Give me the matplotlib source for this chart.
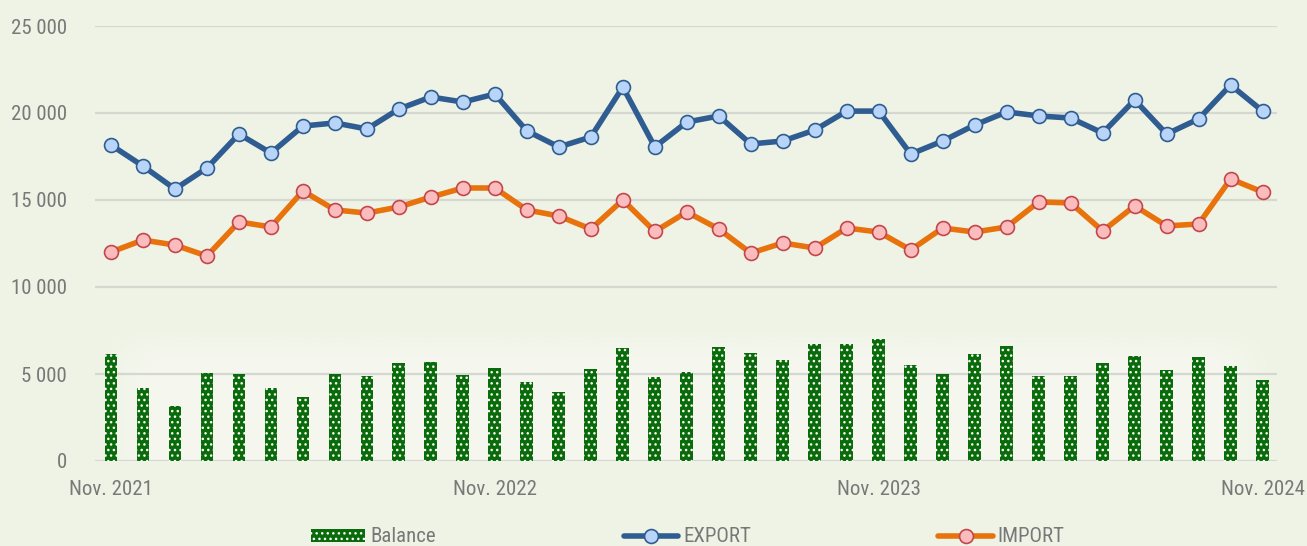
import matplotlib
matplotlib.use("Agg")
import matplotlib.pyplot as plt
import numpy as np
from matplotlib import font_manager
from matplotlib.ticker import FuncFormatter, FixedLocator

months = ["Nov. 2021", "Dec. 2021", "Jan. 2022", "Feb. 2022", "Mar. 2022", "Apr. 2022",
          "May 2022", "Jun. 2022", "Jul. 2022", "Aug. 2022", "Sep. 2022", "Oct. 2022",
          "Nov. 2022", "Dec. 2022", "Jan. 2023", "Feb. 2023", "Mar. 2023", "Apr. 2023",
          "May 2023", "Jun. 2023", "Jul. 2023", "Aug. 2023", "Sep. 2023", "Oct. 2023",
          "Nov. 2023", "Dec. 2023", "Jan. 2024", "Feb. 2024", "Mar. 2024", "Apr. 2024",
          "May 2024", "Jun. 2024", "Jul. 2024", "Aug. 2024", "Sep. 2024", "Oct. 2024",
          "Nov. 2024"]

export = [18160, 16950, 15630, 16840, 18790, 17700, 19250, 19430, 19080, 20230,
          20920, 20630, 21090, 18970, 18050, 18620, 21490, 18050, 19480, 19830,
          18220, 18390, 19020, 20110, 20110, 17640, 18390, 19310, 20060, 19830,
          19710, 18850, 20750, 18790, 19660, 21610, 20110]

imports = [12010, 12700, 12410, 11780, 13740, 13450, 15520, 14430, 14250, 14600,
           15170, 15690, 15690, 14430, 14080, 13330, 15000, 13190, 14310, 13330,
           11950, 12530, 12240, 13390, 13160, 12130, 13390, 13160, 13450, 14890,
           14830, 13220, 14660, 13510, 13620, 16210, 15460]

balance = [6130, 4180, 3160, 5080, 4980, 4180, 3660, 4980, 4890, 5610,
           5690, 4940, 5360, 4520, 3950, 5300, 6510, 4810, 5110, 6530,
           6220, 5820, 6720, 6720, 6990, 5530, 5000, 6170, 6610, 4900,
           4900, 5610, 6030, 5210, 5980, 5460, 4660]

yticks = [0, 5000, 10000, 15000, 20000, 25000]
xtick_labels = ["Nov. 2021", "Nov. 2022", "Nov. 2023", "Nov. 2024"]

# font choice
avail = {f.name for f in font_manager.fontManager.ttflist}
family = "DejaVu Sans"
for cand in ["Roboto Condensed", "Liberation Sans Narrow", "DejaVu Sans Condensed", "Roboto", "Open Sans"]:
    if cand in avail:
        family = cand
        break
plt.rcParams['font.family'] = [family, 'DejaVu Sans']
plt.rcParams['hatch.color'] = 'white'
plt.rcParams['hatch.linewidth'] = 1.0

BG = "#eff3e5"
GRID = "#d5d8d0"
TXT = "#787878"
GREEN = "#0a6b0a"
BLUE = "#2f5d91"
BLUE_FACE = "#b8d4f8"
ORANGE = "#e8720c"
PINK_FACE = "#fbbcbd"
PINK_EDGE = "#c4464b"

fig = plt.figure(figsize=(13.07, 5.46), dpi=100, facecolor=BG)
ax = fig.add_axes([95/1307, 85/546, (1277-95)/1307, (461-26)/546])
ax.set_facecolor(BG)

x = np.arange(len(months))

# soft lighter glow behind bars
gx = np.linspace(0, 1, 300)
gy = np.linspace(0, 1, 150)
GX, GY = np.meshgrid(gx, gy)
vert = np.clip((1 - GY) / 0.35, 0, 1)
vert = vert * vert * (3 - 2 * vert)
horiz = np.clip(np.minimum(GX, 1 - GX) / 0.05, 0, 1)
alpha = vert * horiz * 0.75
img = np.zeros((150, 300, 4))
img[..., :3] = np.array([248, 249, 243]) / 255
img[..., 3] = alpha
ax.imshow(img, extent=(-0.5, 36.45, 0, 8200), origin='lower', aspect='auto',
          zorder=0, interpolation='bilinear')

for t in yticks:
    ax.axhline(t, color=GRID, lw=1.6, zorder=1)

bars = ax.bar(x, balance, width=0.4, color=GREEN, hatch='...', linewidth=0, zorder=2,
              label="Balance")
l1, = ax.plot(x, export, color=BLUE, lw=4.0, marker='o', ms=10, mfc=BLUE_FACE,
              mec=BLUE, mew=1.2, zorder=4, label="EXPORT", solid_capstyle='round')
l2, = ax.plot(x, imports, color=ORANGE, lw=4.0, marker='o', ms=10, mfc=PINK_FACE,
              mec=PINK_EDGE, mew=1.2, zorder=3, label="IMPORT", solid_capstyle='round')

ax.set_xlim(-0.5, 36.45)
ax.set_ylim(0, 25000)
for s in ax.spines.values():
    s.set_visible(False)

ax.yaxis.set_major_locator(FixedLocator(yticks))
ax.yaxis.set_major_formatter(FuncFormatter(lambda v, p: f"{int(v):,}".replace(",", " ")))
xt_pos = [months.index(m) for m in xtick_labels]
ax.set_xticks(xt_pos)
ax.set_xticklabels(xtick_labels)
ax.tick_params(axis='y', length=0, pad=20, labelsize=15, labelcolor=TXT)
ax.tick_params(axis='x', length=0, pad=14, labelsize=15, labelcolor=TXT)

leg = fig.legend([bars, l1, l2], ["Balance", "EXPORT", "IMPORT"],
                 loc='center', bbox_to_anchor=(688/1307, 9/546), ncol=3,
                 frameon=False, fontsize=15, handlelength=2.6, handleheight=0.6,
                 handletextpad=0.25, columnspacing=9.0, labelcolor=TXT,
                 borderaxespad=0)

fig.savefig("out.png", dpi=100, facecolor=BG)
